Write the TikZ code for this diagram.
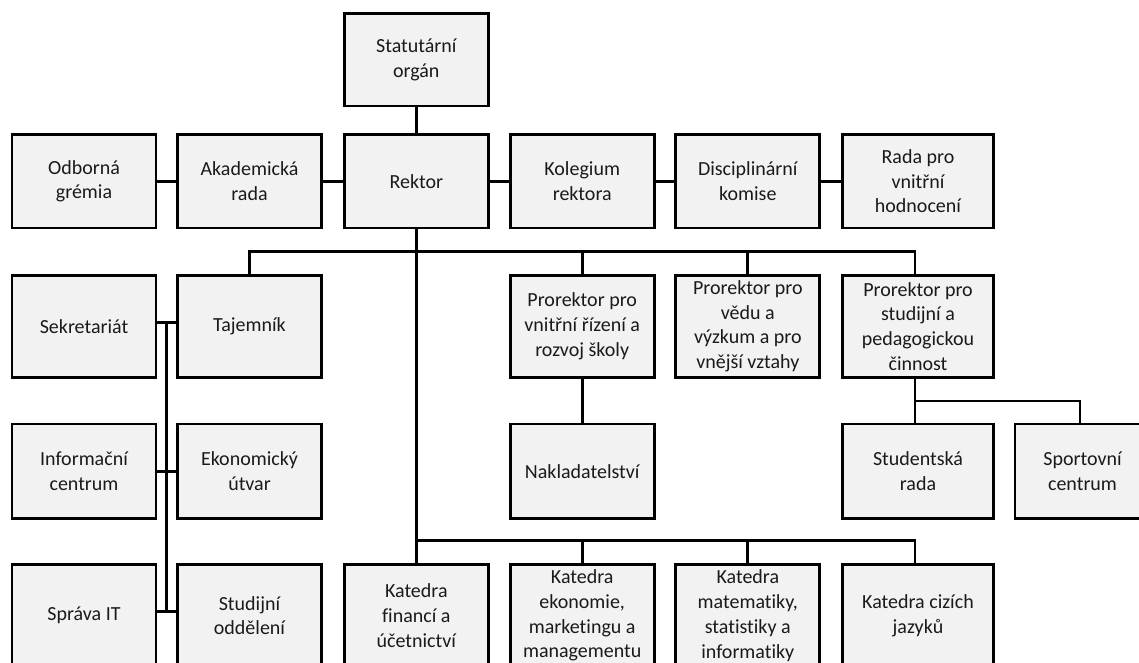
\documentclass[tikz,border=0pt]{standalone}
\usepackage{fontspec}
\setmainfont{Carlito}[Ligatures=NoCommon]
\definecolor{boxfill}{HTML}{F2F2F2}
\definecolor{txt}{HTML}{1A1A1A}
\begin{document}
\begin{tikzpicture}[x=1pt,y=-1pt,
  orgbox/.style={draw=black, fill=boxfill, line width=2.8pt, anchor=north west,
    inner sep=0pt, outer sep=0pt, align=center, minimum width=144pt, text=txt,
    font=\fontsize{20}{24.7}\selectfont},
  rowa/.style={minimum height=92.7pt},
  rowb/.style={minimum height=93.3pt},
  rowc/.style={minimum height=102pt},
  rowd/.style={minimum height=94.3pt},
  rowe/.style={minimum height=102pt},
  wide/.style={minimum width=150.6pt},
  link/.style={draw=black, line width=2.7pt}]
\useasboundingbox (0,0) rectangle (1139,663);
\clip (0,0) rectangle (1139,663);
% row 1
\node[orgbox,rowa] (stat) at (344.3,13.3) {Statutární\\orgán};
% row 2
\node[orgbox,rowb] (odb)  at (12,134.7)    {Odborná\\grémia};
\node[orgbox,rowb] (aka)  at (177.5,134.7) {Akademická\\rada};
\node[orgbox,rowb] (rek)  at (344.3,134.7) {Rektor};
\node[orgbox,rowb] (kol)  at (510.2,134.7) {Kolegium\\rektora};
\node[orgbox,rowb] (dis)  at (675.8,134.7) {Disciplinární\\komise};
\node[orgbox,rowb,wide] (rada) at (842.7,134.7) {Rada pro\\vnitřní\\hodnocení};
% row 3
\node[orgbox,rowc] (sek) at (12,275.3)    {Sekretariát};
\node[orgbox,rowc] (taj) at (177.5,275.3) {Tajemník};
\node[orgbox,rowc] (pr1) at (510.2,275.3) {Prorektor pro\\vnitřní řízení a\\rozvoj školy};
\node[orgbox,rowc] (pr2) at (675.8,275.3) {Prorektor pro\\vědu a\\výzkum a pro\\vnější vztahy};
\node[orgbox,rowc,wide] (pr3) at (842.7,275.3) {Prorektor pro\\studijní a\\pedagogickou\\činnost};
% row 4
\node[orgbox,rowd] (inf)  at (12,424)    {Informační\\centrum};
\node[orgbox,rowd] (eko)  at (177.5,424) {Ekonomický\\útvar};
\node[orgbox,rowd] (nak)  at (510.2,424) {Nakladatelství};
\node[orgbox,rowd,wide] (stu) at (842.7,424) {Studentská\\rada};
\node[orgbox,rowd,minimum width=135pt] (spo) at (1015,424) {Sportovní\\centrum};
% row 5
\node[orgbox,rowe] (spr) at (12,564.7)    {Správa IT};
\node[orgbox,rowe] (sto) at (177.5,564.7) {Studijní\\oddělení};
\node[orgbox,rowe] (ka1) at (344.3,564.7) {Katedra\\financí a\\účetnictví};
\node[orgbox,rowe] (ka2) at (510.2,564.7) {Katedra\\ekonomie,\\marketingu a\\managementu};
\node[orgbox,rowe] (ka3) at (675.8,564.7) {Katedra\\matematiky,\\statistiky a\\informatiky};
\node[orgbox,rowe,wide] (ka4) at (842.7,564.7) {Katedra cizích\\jazyků};
% helper coordinates
\coordinate (busa) at (0,251.3);
\coordinate (busb) at (0,401);
\coordinate (busc) at (0,540.7);
\coordinate (csix) at (915,0);
\coordinate (cseven) at (1080,0);
\coordinate (trunk) at (166.5,0);
\coordinate (hsek) at (0,322.3);
\coordinate (hspr) at (0,611.7);
% connectors
\draw[link] (stat.south) -- (rek.north);
\draw[link] (odb.east) -- (aka.west);
\draw[link] (aka.east) -- (rek.west);
\draw[link] (rek.east) -- (kol.west);
\draw[link] (kol.east) -- (dis.west);
\draw[link] (dis.east) -- (rada.west);
\draw[link] (rek.south) -- (ka1.north);
\draw[link] (taj.north) -- (taj.north |- busa) -- (csix |- busa) -- (csix |- pr3.north);
\draw[link] (pr1.north) -- (pr1.north |- busa);
\draw[link] (pr2.north) -- (pr2.north |- busa);
\draw[link] (pr1.south) -- (nak.north);
\draw[link] (csix |- pr3.south) -- (csix |- stu.north);
\draw[link] (csix |- busb) -- (cseven |- busb) -- (cseven |- spo.north);
\draw[link] (rek.south |- busc) -- (csix |- busc) -- (csix |- ka4.north);
\draw[link] (ka2.north) -- (ka2.north |- busc);
\draw[link] (ka3.north) -- (ka3.north |- busc);
\draw[link] (sek.east |- hsek) -- (taj.west |- hsek);
\draw[link] (trunk |- hsek) -- (trunk |- hspr);
\draw[link] (inf.east) -- (eko.west);
\draw[link] (spr.east |- hspr) -- (sto.west |- hspr);
\end{tikzpicture}
\end{document}
